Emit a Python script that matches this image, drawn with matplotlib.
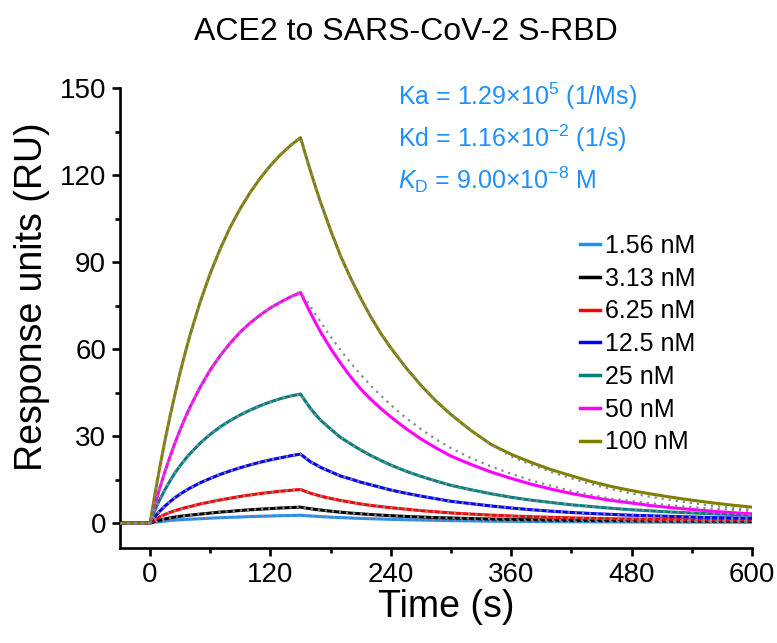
import matplotlib
matplotlib.use('Agg')
import matplotlib.pyplot as plt
from matplotlib.ticker import MultipleLocator

plt.rcParams['font.family'] = ['Liberation Sans', 'DejaVu Sans']
plt.rcParams['mathtext.fontset'] = 'custom'
plt.rcParams['mathtext.rm'] = 'Liberation Sans'
plt.rcParams['mathtext.it'] = 'Liberation Sans:italic'

# time (s): association 0-150, dissociation 150-600
t_assoc = [-30, 0, 2.5, 5, 7.5, 10, 15, 20, 25, 30, 35, 40, 50, 60, 70, 80, 90, 100,
           110, 120, 130, 140, 150]
t_dissoc = [155, 160, 165, 170, 180, 190, 200, 210, 220, 230, 240, 255, 270, 285, 300,
            320, 340, 360, 380, 400, 420, 440, 460, 480, 500, 520, 540, 560, 580, 600]
t = t_assoc + t_dissoc

labels = ['1.56 nM', '3.13 nM', '6.25 nM', '12.5 nM', '25 nM', '50 nM', '100 nM']
colors = ['#1E8FFF', '#000000', '#FF0000', '#0000FF', '#008080', '#FF00FF', '#808000']

# response units
r_1p56 = ([0, 0, 0.15, 0.3, 0.4, 0.5, 0.7, 0.9, 1.05, 1.15, 1.25, 1.35, 1.5, 1.7, 1.85, 2.0,
           2.1, 2.25, 2.35, 2.45, 2.55, 2.6, 2.7] +
          [2.55, 2.45, 2.35, 2.25, 2.05, 1.9, 1.75, 1.6, 1.5, 1.4, 1.3, 1.15, 1.05, 0.95, 0.85,
           0.75, 0.65, 0.6, 0.55, 0.5, 0.45, 0.42, 0.4, 0.38, 0.36, 0.34, 0.32, 0.3, 0.3, 0.3])
r_3p13 = ([0, 0, 0.3, 0.6, 0.8, 1.0, 1.45, 1.8, 2.1, 2.35, 2.55, 2.75, 3.1, 3.45, 3.8, 4.05,
           4.35, 4.6, 4.8, 5.0, 5.2, 5.35, 5.5] +
          [5.2, 4.95, 4.7, 4.5, 4.1, 3.75, 3.45, 3.2, 2.95, 2.75, 2.55, 2.3, 2.1, 1.9, 1.75,
           1.55, 1.4, 1.25, 1.15, 1.05, 0.95, 0.9, 0.85, 0.8, 0.75, 0.72, 0.7, 0.68, 0.66, 0.65])
r_6p25 = ([0, 0, 0.6, 1.2, 1.7, 2.2, 3.0, 3.7, 4.3, 4.8, 5.3, 5.7, 6.6, 7.3, 8.0, 8.6,
           9.2, 9.7, 10.2, 10.6, 11.0, 11.3, 11.6] +
          [10.9, 10.3, 9.8, 9.3, 8.5, 7.8, 7.2, 6.6, 6.1, 5.7, 5.3, 4.8, 4.3, 3.9, 3.5,
           3.1, 2.75, 2.45, 2.2, 2.0, 1.8, 1.65, 1.5, 1.4, 1.3, 1.2, 1.15, 1.1, 1.05, 1.0])
r_12p5 = ([0, 0, 1.2, 2.3, 3.3, 4.2, 5.9, 7.4, 8.8, 10.0, 11.1, 12.1, 13.9, 15.4, 16.8, 18.0,
           19.1, 20.1, 21.0, 21.8, 22.5, 23.2, 23.8] +
          [22.4, 21.1, 20.2, 19.2, 17.7, 16.2, 15.2, 14.1, 13.2, 12.3, 11.4, 10.3, 9.3, 8.4, 7.5,
           6.7, 5.9, 5.2, 4.6, 4.1, 3.65, 3.3, 3.0, 2.7, 2.5, 2.3, 2.1, 1.9, 1.8, 1.7])
r_25 = ([0, 0, 2.3, 4.5, 6.5, 8.3, 11.6, 14.6, 17.4, 19.8, 22.0, 24.0, 27.6, 30.6, 33.2, 35.4,
         37.3, 39.0, 40.5, 41.8, 42.9, 43.8, 44.5] +
        [41.9, 39.5, 37.4, 35.5, 32.4, 29.5, 27.3, 25.2, 23.3, 21.6, 20.0, 17.9, 16.1, 14.5, 13.0,
         11.5, 10.1, 8.9, 7.9, 7.1, 6.3, 5.7, 5.1, 4.6, 4.2, 3.8, 3.5, 3.2, 3.0, 2.7])
r_50 = ([0, 0, 3.3, 6.4, 9.5, 12.4, 17.9, 23.0, 27.8, 32.2, 36.3, 40.1, 46.9, 52.8, 57.8, 62.1,
         65.9, 69.1, 71.8, 74.2, 76.2, 78.0, 79.5] +
        [75.9, 72.4, 69.1, 65.9, 60.2, 55.1, 50.4, 46.2, 42.7, 39.5, 36.6, 32.6, 29.0, 25.9, 23.1,
         20.2, 17.6, 15.4, 13.4, 11.7, 10.2, 8.9, 7.8, 6.9, 6.0, 5.3, 4.7, 4.1, 3.6, 3.2])
r_100 = ([0, 0, 5.2, 10.2, 15.1, 19.8, 28.7, 37.0, 44.7, 52.0, 58.7, 65.0, 76.3, 86.1, 94.6, 102.1,
          108.5, 114.1, 119.0, 123.3, 127.0, 130.2, 132.9] +
         [127.0, 121.3, 115.8, 110.6, 100.9, 92.0, 84.4, 77.5, 71.1, 65.4, 60.4, 53.6, 47.5, 42.1, 37.4,
          31.9, 27.1, 23.7, 20.9, 18.4, 16.3, 14.3, 12.6, 11.2, 10.0, 8.9, 7.9, 7.0, 6.2, 5.5])

# global fit (gray dotted): lies on the data except in the dissociation of 50 and 100 nM
fit_50 = (r_50[:len(t_assoc)] +
          [77.2, 74.6, 71.9, 69.3, 64.3, 59.6, 55.2, 51.2, 47.4, 44.0, 40.7, 36.3, 32.4, 28.9, 25.8,
           22.4, 19.5, 17.0, 14.7, 12.8, 11.1, 9.7, 8.4, 7.6, 6.8, 6.1, 5.5, 5.0, 4.6, 4.2])
fit_100 = (r_100[:len(t_assoc) + 17] +
           [23.0, 20.1, 17.6, 15.4, 13.4, 11.7, 10.2, 9.0, 7.9, 6.9, 6.0, 5.3, 4.6])

data = [r_1p56, r_3p13, r_6p25, r_12p5, r_25, r_50, r_100]
fits = [r_1p56, r_3p13, r_6p25, r_12p5, r_25, fit_50, fit_100]

fig = plt.figure(figsize=(7.77, 6.43), dpi=100)
ax = fig.add_axes([0.1544, 0.1477, 0.8134, 0.7154])

for y, c, lab in zip(data, colors, labels):
    ax.plot(t, y, color=c, lw=2.2, label=lab, zorder=2)
for y in fits:
    ax.plot(t, y, color='#888888', lw=1.6, ls=(0, (1, 2.2)), zorder=3)

ax.set_xlim(-30, 600)
ax.set_ylim(-8.6, 150)
ax.xaxis.set_major_locator(MultipleLocator(120))
ax.xaxis.set_minor_locator(MultipleLocator(60))
ax.yaxis.set_major_locator(MultipleLocator(30))
ax.yaxis.set_minor_locator(MultipleLocator(15))
ax.spines['top'].set_visible(False)
ax.spines['right'].set_visible(False)
for s in ['left', 'bottom']:
    ax.spines[s].set_linewidth(1.9)
ax.tick_params(which='major', direction='out', length=6, width=1.9, labelsize=20, pad=4)
ax.tick_params(which='minor', direction='out', length=3.5, width=1.9)

ax.set_xlabel('Time (s)', fontsize=27, va='center')
ax.xaxis.set_label_coords(0.517, -0.128)
ax.set_ylabel('Response units (RU)', fontsize=27, va='center')
ax.yaxis.set_label_coords(-0.139, 0.546)

fig.text(0.522, 0.950, 'ACE2 to SARS-CoV-2 S-RBD', ha='center', va='center', fontsize=23)

kin = '#1E90FF'
kin_lines = [r'Ka = 1.29×10$^{5}$ (1/Ms)',
             r'Kd = 1.16×10$^{-2}$ (1/s)',
             r'$\mathit{K}_{\mathrm{D}}$ = 9.00×10$^{-8}$ M']
kin_y = [0.963, 0.872, 0.780]
for s, yy in zip(kin_lines, kin_y):
    ax.text(0.44, yy, s, transform=ax.transAxes, color=kin, fontsize=18,
            va='baseline', ha='left')

leg = ax.legend(loc='upper left', bbox_to_anchor=(0.728, 0.683), frameon=False,
                fontsize=18, handlelength=0.8, handletextpad=0.2, labelspacing=0.35,
                borderpad=0, borderaxespad=0)
for h in leg.get_lines():
    h.set_linewidth(2.5)

fig.savefig('out.png', dpi=100)
